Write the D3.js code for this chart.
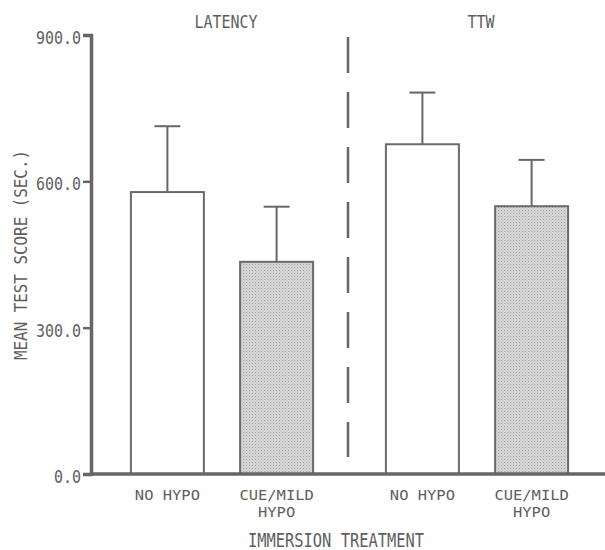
<!DOCTYPE html>
<html lang="en">
    <head>
        <title>immersion treatment</title>
        <script src="https://cdn.jsdelivr.net/npm/d3@7"></script>
        <style>
            body { margin: 0; background: #fff; }
            text { font-family: "DejaVu Sans Mono", monospace; fill: #5e5e5e; }
        </style>
    </head>
    <body>
        <div id="graph"></div>
    </body>
    <script>
        // values
        const groups = ["LATENCY", "TTW"];
        const treatments = ["NO HYPO", "CUE/MILD HYPO"];
        const latencyMeans = [578, 435];
        const latencyUpper = [713, 548];
        const ttwMeans = [676, 549];
        const ttwUpper = [782, 644];
        const yTicks = [0, 300, 600, 900];

        const rows = [];
        groups.forEach((g, gi) => {
            const means = gi == 0 ? latencyMeans : ttwMeans;
            const upper = gi == 0 ? latencyUpper : ttwUpper;
            treatments.forEach((t, ti) => rows.push({group: g, treatment: t, mean: means[ti], upper: upper[ti]}));
        });

        var w = 605, h = 550;
        var svg = d3.select("#graph").append("svg").attr("width", w).attr("height", h);

        // stipple for the shaded bars
        var pat = svg.append("defs").append("pattern")
            .attr("id", "dots").attr("width", 3).attr("height", 3)
            .attr("patternUnits", "userSpaceOnUse");
        pat.append("rect").attr("width", 3).attr("height", 3).attr("fill", "#dadada");
        pat.append("rect").attr("width", 1).attr("height", 1).attr("fill", "#9a9a9a");
        pat.append("rect").attr("x", 1.5).attr("y", 1.5).attr("width", 1).attr("height", 1).attr("fill", "#b0b0b0");

        var y = d3.scaleLinear().domain([0, 900]).range([474, 35]);

        var x0 = d3.scaleBand().domain(groups).range([94.5, 604.5]);
        var x1 = d3.scaleBand().domain(treatments).range([36.4, 218.6]).paddingInner(0.3315);

        // Y axis
        var yAxis = svg.append("g")
            .attr("transform", "translate(91,0)")
            .call(d3.axisLeft(y).tickValues(yTicks).tickFormat(d3.format(".1f")).tickSizeOuter(0).tickSize(8).tickPadding(2));
        yAxis.select(".domain").attr("stroke", "#666").attr("stroke-width", 3.5);
        yAxis.selectAll(".tick line").attr("stroke", "#666").attr("stroke-width", 2.5);
        yAxis.selectAll(".tick text")
            .attr("font-family", "DejaVu Sans Mono").attr("font-size", 17).attr("fill", "#5e5e5e")
            .attr("y", 3)
            .attr("textLength", function(d) { return this.textContent.length * 9; })
            .attr("lengthAdjust", "spacingAndGlyphs");

        // bars
        var bars = svg.append("g").selectAll("g")
            .data(rows).enter().append("g")
            .attr("transform", d => "translate(" + (x0(d.group) + x1(d.treatment)) + ",0)");

        bars.append("line")
            .attr("x1", x1.bandwidth() / 2).attr("x2", x1.bandwidth() / 2)
            .attr("y1", d => y(d.mean)).attr("y2", d => y(d.upper))
            .attr("stroke", "#666").attr("stroke-width", 2);
        bars.append("line")
            .attr("x1", x1.bandwidth() / 2 - 13).attr("x2", x1.bandwidth() / 2 + 13)
            .attr("y1", d => y(d.upper)).attr("y2", d => y(d.upper))
            .attr("stroke", "#666").attr("stroke-width", 2);
        bars.append("rect")
            .attr("y", d => y(d.mean))
            .attr("width", x1.bandwidth())
            .attr("height", d => y(0) - y(d.mean))
            .attr("fill", d => d.treatment == treatments[0] ? "#fff" : "url(#dots)")
            .attr("stroke", "#6a6a6a").attr("stroke-width", 2);

        // X axis line
        svg.append("line")
            .attr("x1", 90).attr("x2", w).attr("y1", y(0)).attr("y2", y(0))
            .attr("stroke", "#666").attr("stroke-width", 3.5);

        // divider between the two measures
        svg.append("line")
            .attr("x1", x0("TTW") - 1.5).attr("x2", x0("TTW") - 1.5)
            .attr("y1", 37).attr("y2", 457)
            .attr("stroke", "#666").attr("stroke-width", 2.5)
            .attr("stroke-dasharray", "36 19");

        // group titles
        svg.selectAll(".gtitle").data(groups).enter().append("text")
            .attr("x", d => x0(d) + x0.bandwidth() / 2 + 4)
            .attr("y", 27.5)
            .attr("text-anchor", "middle").attr("font-size", 17)
            .attr("textLength", d => d.length * 9)
            .attr("lengthAdjust", "spacingAndGlyphs")
            .text(d => d);

        // treatment labels under bars
        var labs = svg.append("g").selectAll("text")
            .data(rows).enter().append("text")
            .attr("x", d => x0(d.group) + x1(d.treatment) + x1.bandwidth() / 2)
            .attr("y", 500)
            .attr("text-anchor", "middle").attr("font-size", 13.5);
        labs.selectAll("tspan")
            .data(d => d.treatment == "NO HYPO" ? ["NO HYPO"] : ["CUE/MILD", "HYPO"])
            .enter().append("tspan")
            .attr("x", function() { return this.parentNode.getAttribute("x"); })
            .attr("dy", (d, i) => i == 0 ? 0 : 16.5)
            .attr("textLength", d => d.length * 9.3)
            .attr("lengthAdjust", "spacingAndGlyphs")
            .text(d => d);

        // axis titles
        svg.append("text")
            .attr("x", 336).attr("y", 546.5)
            .attr("text-anchor", "middle").attr("font-size", 20)
            .attr("textLength", 176).attr("lengthAdjust", "spacingAndGlyphs")
            .text("IMMERSION TREATMENT");

        svg.append("text")
            .attr("transform", "translate(27,255) rotate(-90)")
            .attr("text-anchor", "middle").attr("font-size", 17)
            .attr("textLength", 210).attr("lengthAdjust", "spacingAndGlyphs")
            .text("MEAN TEST SCORE (SEC.)");
    </script>
</html>
